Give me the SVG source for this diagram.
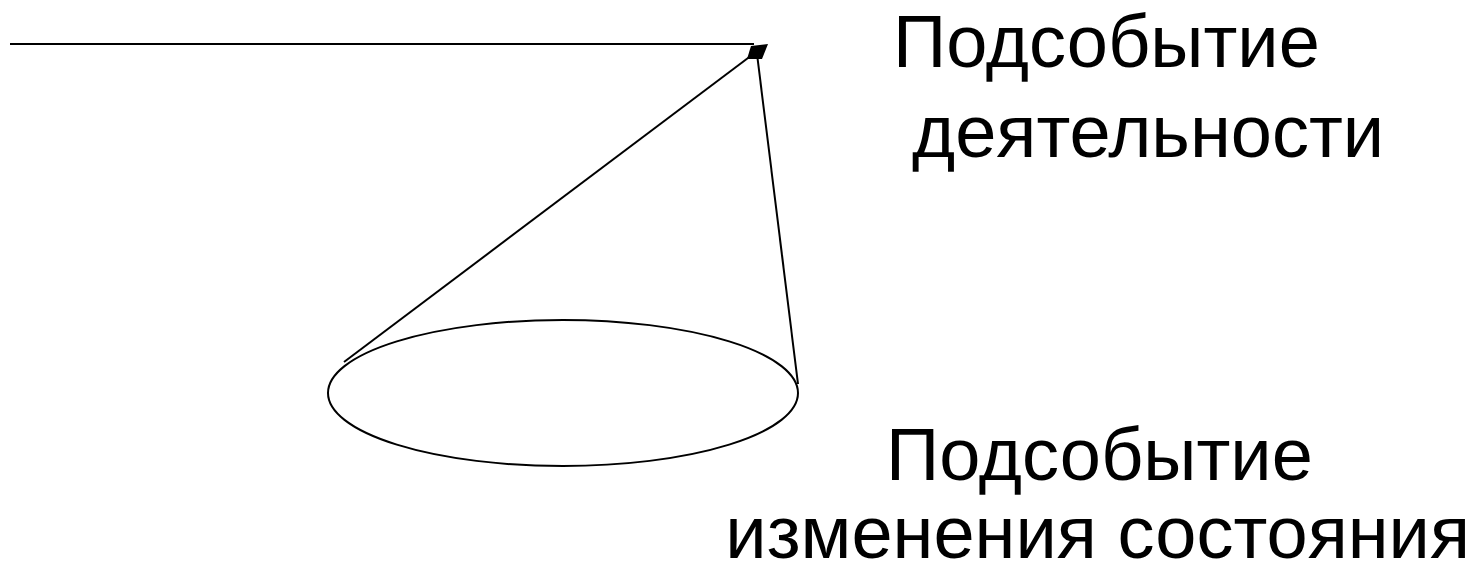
<svg xmlns="http://www.w3.org/2000/svg" width="1475" height="572" viewBox="0 0 1475 572">
<style>
.ln{stroke:#000;stroke-width:2;fill:none}
.t{font-family:"Liberation Sans",Arial,sans-serif;font-size:74px;fill:#000}
</style>
<rect width="1475" height="572" fill="#fff"/>
<g id="connectors">
<line class="ln" x1="10" y1="44" x2="754" y2="44"/>
<line class="ln" x1="344" y1="362" x2="756" y2="52"/>
<line class="ln" x1="757" y1="54" x2="798" y2="384"/>
<polygon points="751,46 768,44 762,59 747,59" fill="#000"/>
</g>
<g id="node-event">
<ellipse class="ln" cx="563" cy="393" rx="235" ry="73"/>
</g>
<g id="label-activity">
<text class="t" x="893" y="67">Подсобытие</text>
<text class="t" x="912" y="157">деятельности</text>
</g>
<g id="label-state">
<text class="t" x="886" y="480">Подсобытие</text>
<text class="t" x="1470" y="558" text-anchor="end">изменения состояния</text>
</g>
</svg>
